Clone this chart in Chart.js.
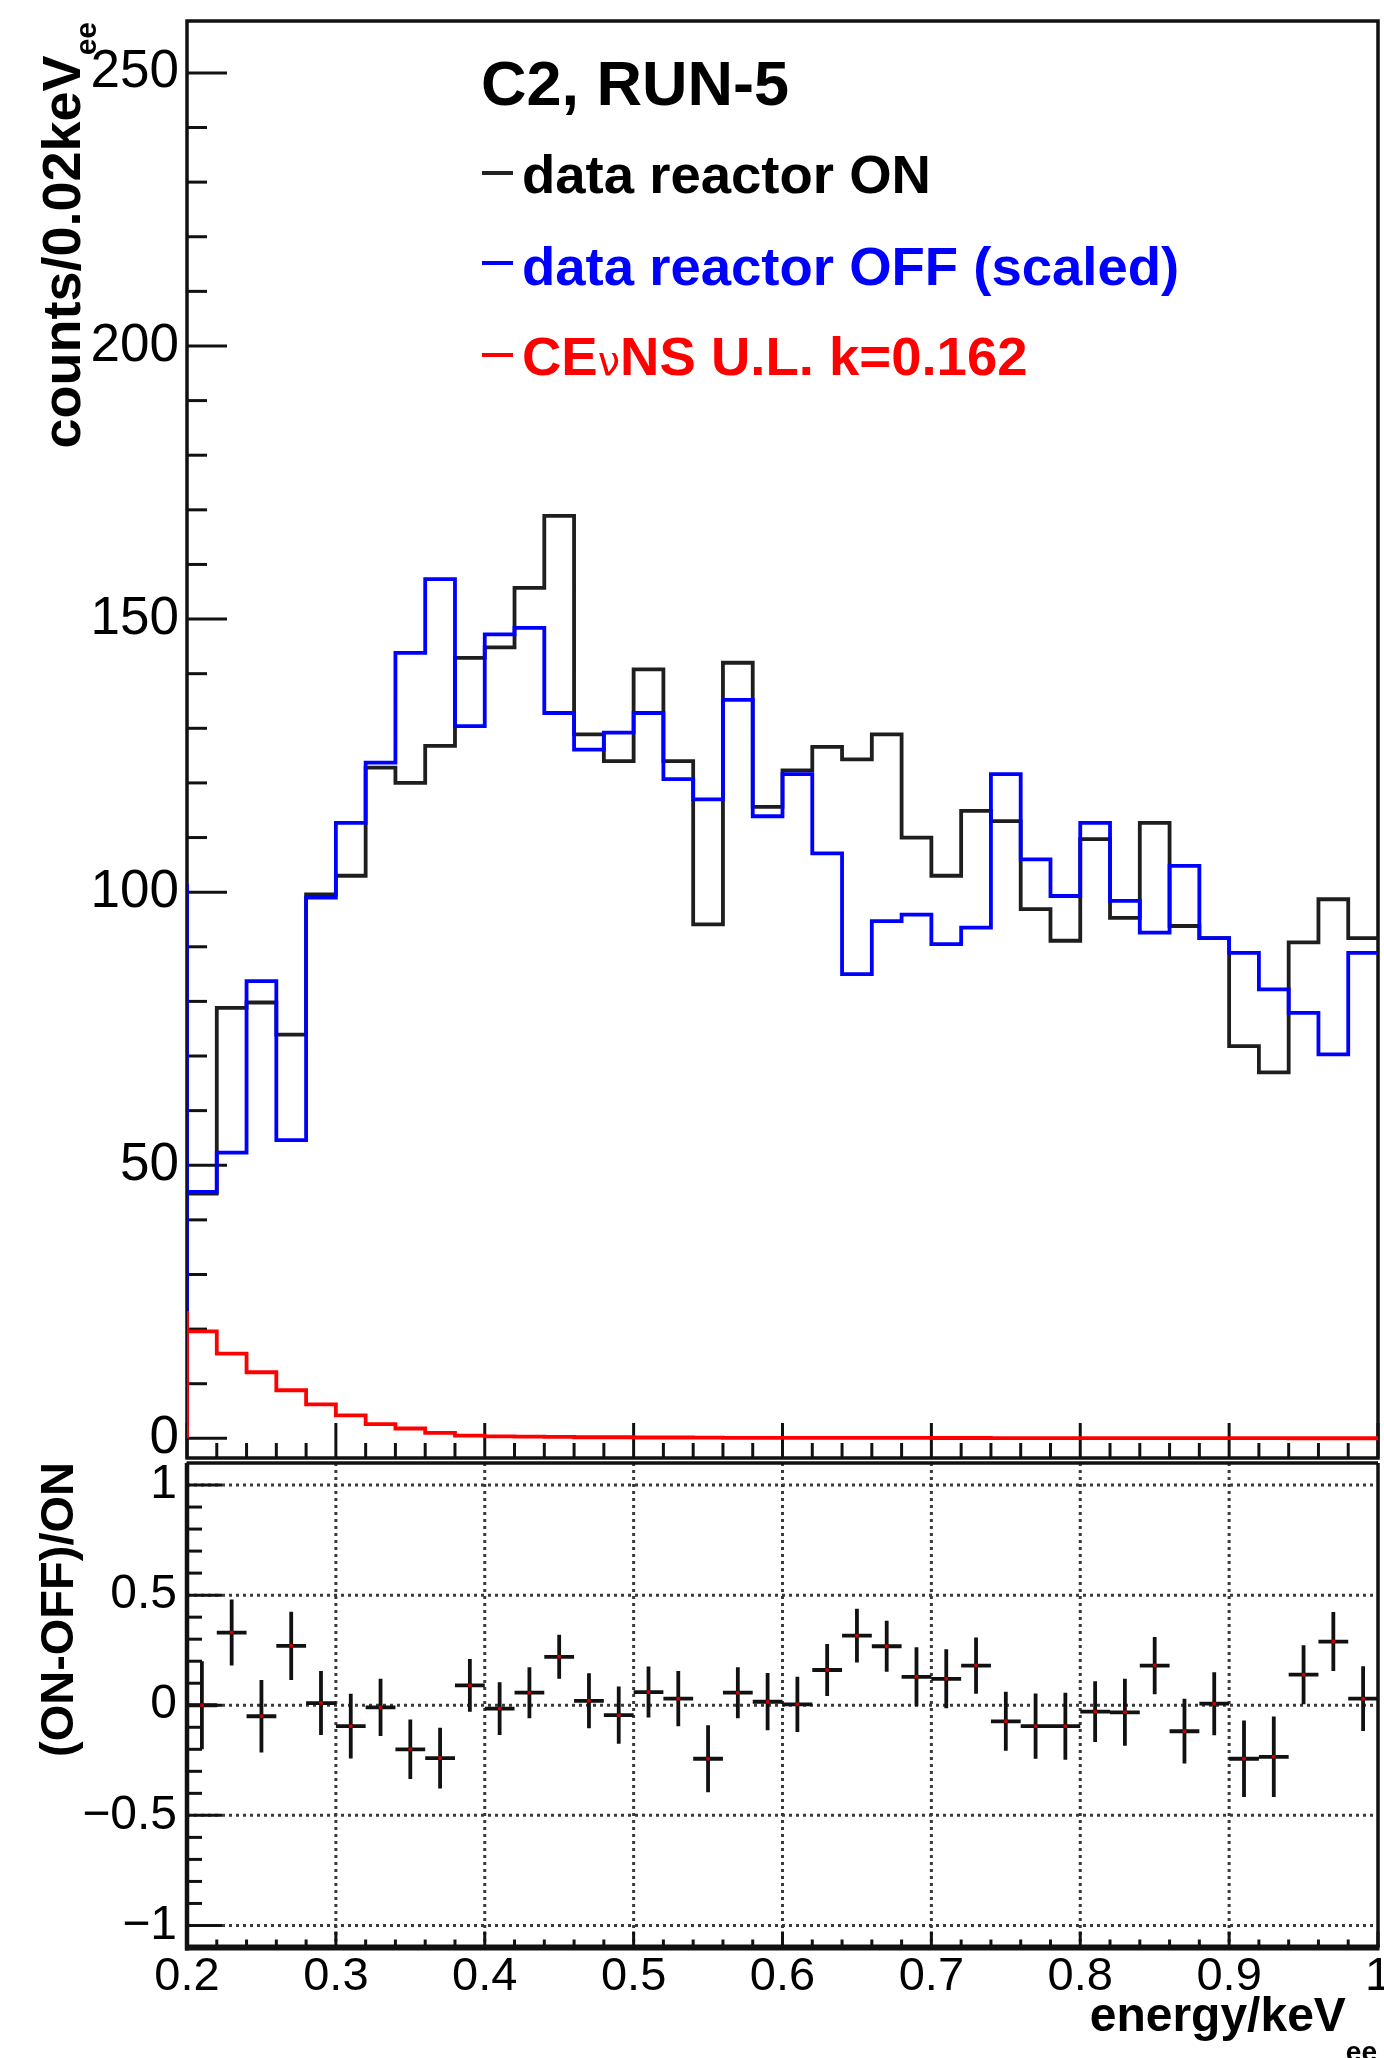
<!DOCTYPE html>
<html>
<head>
<meta charset="utf-8">
<title>C2, RUN-5</title>
<script src="https://cdn.jsdelivr.net/npm/chart.js@4.4.1/dist/chart.umd.min.js"></script>
<style>
html,body{margin:0;padding:0;background:#ffffff;}
body{position:relative;width:1384px;height:2058px;overflow:hidden;font-family:"Liberation Sans",Arial,Helvetica,sans-serif;}
canvas{position:absolute;left:0;}
#topCanvas{top:0;}
#botCanvas{top:1440px;}
.txt{position:absolute;white-space:nowrap;font-weight:bold;line-height:1;color:#000;}
.dash{position:absolute;height:4px;width:31px;}
.rot{transform-origin:0 0;transform:rotate(-90deg);text-align:right;}
.sub{position:relative;}
.nu{font-weight:normal;font-size:40px;font-family:"DejaVu Sans","Liberation Sans",sans-serif;}
</style>
</head>
<body>
<canvas id="topCanvas" width="1384" height="1462"></canvas>
<canvas id="botCanvas" width="1384" height="618"></canvas>

<div class="txt" style="left:481px;top:52px;font-size:63px;">C2, RUN-5</div>
<div class="dash" style="left:482px;top:171px;background:#222;"></div>
<div class="txt" style="left:522px;top:148px;font-size:54.5px;">data reactor ON</div>
<div class="dash" style="left:482px;top:261px;background:#0000ff;"></div>
<div class="txt" style="left:522px;top:240px;font-size:54.5px;color:#0000ff;">data reactor OFF (scaled)</div>
<div class="dash" style="left:482px;top:353px;background:#ff0000;"></div>
<div class="txt" style="left:522px;top:330px;font-size:54.5px;color:#ff0000;">CE<span class="nu">ν</span>NS U.L. k=0.162</div>

<div class="txt rot" style="left:34px;top:722px;width:700px;font-size:54px;">counts/0.02keV<span class="sub" style="font-size:30px;top:16px;">ee</span></div>
<div class="txt rot" style="left:33px;top:1962px;width:500px;font-size:47px;">(ON-OFF)/ON</div>
<div class="txt" style="right:7px;top:1991px;font-size:48px;">energy/keV<span class="sub" style="font-size:28px;top:30px;">ee</span></div>

<script>
// ---------------- data ----------------
const binEdges = [0.20,0.22,0.24,0.26,0.28,0.30,0.32,0.34,0.36,0.38,0.40,0.42,0.44,0.46,0.48,0.50,0.52,0.54,0.56,0.58,
                  0.60,0.62,0.64,0.66,0.68,0.70,0.72,0.74,0.76,0.78,0.80,0.82,0.84,0.86,0.88,0.90,0.92,0.94,0.96,0.98,1.00];

const onCounts = [44.8,78.8,79.8,73.9,99.6,103.0,122.8,120.0,126.8,142.9,144.8,155.7,168.9,128.9,124.0,140.8,124.0,94.1,142.0,115.6,
                  122.3,126.6,124.3,128.9,110.0,103.0,114.9,113.0,96.9,91.1,109.7,95.3,112.7,93.8,91.6,71.8,67.0,90.8,98.7,91.6];

const offCounts = [45.1,52.3,83.7,54.6,99.0,112.7,123.7,143.8,157.3,130.4,147.2,148.4,132.8,126.1,129.2,132.8,120.7,117.0,135.2,113.9,
                   121.6,107.1,85.0,94.7,95.9,90.5,93.5,121.6,106.0,99.3,112.7,98.4,92.6,104.8,91.6,88.9,82.2,77.9,70.3,88.9];

const cevnsCounts = [19.6,15.5,12.1,8.8,6.2,4.2,2.6,1.8,1.0,0.5,0.35,0.3,0.25,0.2,0.2,0.15,0.15,0.12,0.1,0.1,
                     0.1,0.08,0.08,0.07,0.07,0.06,0.06,0.05,0.05,0.05,0.04,0.04,0.04,0.03,0.03,0.03,0.03,0.02,0.02,0.02];

// value of the bin just below 0.2 keV (seen as the vertical line on the left edge)
const onEdgeValue = 0;
const offEdgeValue = 101.5;
const cevnsEdgeValue = 23.3;

const ratioValues = [0.0,0.33,-0.05,0.27,0.01,-0.095,-0.01,-0.2,-0.24,0.09,-0.015,0.057,0.22,0.02,-0.045,0.06,0.03,-0.243,0.057,0.016,
                     0.004,0.16,0.316,0.268,0.129,0.12,0.18,-0.073,-0.095,-0.095,-0.029,-0.032,0.18,-0.118,0.007,-0.243,-0.234,0.139,0.289,0.03];
const ratioErrors = [0.2,0.15,0.165,0.155,0.145,0.147,0.13,0.135,0.138,0.12,0.12,0.116,0.1,0.125,0.13,0.116,0.125,0.152,0.116,0.13,
                     0.125,0.118,0.122,0.116,0.134,0.134,0.128,0.134,0.148,0.152,0.138,0.152,0.13,0.147,0.143,0.174,0.183,0.134,0.134,0.147];

const topYTicks = [0,50,100,150,200,250];
const topYTickLabels = ['0','50','100','150','200','250'];
const botYTicks = [-1,-0.5,0,0.5,1];
const botYTickLabels = ['\u22121','\u22120.5','0','0.5','1'];
const xTicks = [0.2,0.3,0.4,0.5,0.6,0.7,0.8,0.9,1.0];
const xTickLabels = ['0.2','0.3','0.4','0.5','0.6','0.7','0.8','0.9','1'];

// ---------------- helpers ----------------
function stepPoints(vals, edgeVal){
  const pts = [{x:binEdges[0], y:0}, {x:binEdges[0], y:edgeVal}];
  vals.forEach((v,i)=>{ pts.push({x:binEdges[i], y:v}); pts.push({x:binEdges[i+1], y:v}); });
  return pts;
}
function errorBarPoints(){
  const pts = [];
  ratioValues.forEach((r,i)=>{
    const c = (binEdges[i]+binEdges[i+1])/2;
    pts.push({x:binEdges[i], y:r}, {x:binEdges[i+1], y:r}, {x:c, y:null},
             {x:c, y:r-ratioErrors[i]}, {x:c, y:r+ratioErrors[i]}, {x:c, y:null});
  });
  return pts;
}
function markerPoints(){
  return ratioValues.map((r,i)=>({x:(binEdges[i]+binEdges[i+1])/2, y:r}));
}
function range(a,b,step){ const out=[]; const n=Math.round((b-a)/step); for(let i=0;i<=n;i++) out.push(a+i*step); return out; }
function line(ctx,x1,y1,x2,y2){ ctx.beginPath(); ctx.moveTo(x1,y1); ctx.lineTo(x2,y2); ctx.stroke(); }
function noPadY(s, w){ s.width = w; s.paddingTop = 0; s.paddingBottom = 0; }
function noPadX(s, h){ s.height = h; s.paddingLeft = 0; s.paddingRight = 0; }

Chart.defaults.font.family = "'Liberation Sans', Arial, Helvetica, sans-serif";
Chart.defaults.color = '#000';

// ---------------- upper panel ----------------
const topDecor = {
  id:'topDecor',
  beforeDatasetsDraw(chart){
    const ctx = chart.ctx, a = chart.chartArea, xs = chart.scales.x, ys = chart.scales.y;
    ctx.save();
    ctx.strokeStyle = '#111'; ctx.lineCap = 'butt';
    ctx.lineWidth = 3;
    range(0,250,10).forEach(v=>{
      const y = ys.getPixelForValue(v);
      const len = topYTicks.includes(Math.round(v)) ? 40 : 20;
      line(ctx, a.left, y, a.left+len, y);
    });
    range(0.2,1.0,0.02).forEach((v,i)=>{
      const x = xs.getPixelForValue(v);
      const len = (i%5===0) ? 35 : 15;
      line(ctx, x, a.bottom, x, a.bottom-len);
    });
    ctx.lineWidth = 3.5;
    ctx.strokeRect(a.left, a.top, a.right-a.left, a.bottom-a.top);
    ctx.restore();
  }
};

new Chart(document.getElementById('topCanvas'), {
  type:'line',
  data:{datasets:[
    {label:'CEvNS U.L. k=0.162', data:stepPoints(cevnsCounts, cevnsEdgeValue), borderColor:'#ff0000', borderWidth:3.8, pointRadius:0, order:0},
    {label:'data reactor OFF (scaled)', data:stepPoints(offCounts, offEdgeValue), borderColor:'#0000ff', borderWidth:3.8, pointRadius:0, order:1},
    {label:'data reactor ON', data:stepPoints(onCounts, onEdgeValue), borderColor:'#1e1e1e', borderWidth:3.8, pointRadius:0, order:2}
  ]},
  options:{
    responsive:false, animation:false, devicePixelRatio:1, events:[],
    layout:{padding:{left:0,right:6,top:21,bottom:0}, autoPadding:false},
    plugins:{legend:{display:false}, tooltip:{enabled:false}},
    elements:{line:{tension:0, borderJoinStyle:'miter', borderCapStyle:'butt', fill:false}},
    scales:{
      x:{type:'linear', min:0.2, max:1.0, grid:{display:false, drawTicks:false}, border:{display:false},
         ticks:{display:false}, afterFit(s){ noPadX(s, 4); }},
      y:{type:'linear', min:-3.6, max:259.5, grid:{display:false, drawTicks:false}, border:{display:false},
         afterBuildTicks(s){ s.ticks = topYTicks.map(v=>({value:v})); },
         ticks:{padding:8, font:{size:53}, color:'#000', callback:(v,i)=>topYTickLabels[i]},
         afterFit(s){ noPadY(s, 187); }}
    }
  },
  plugins:[topDecor]
});

// ---------------- lower panel ----------------
const botDecor = {
  id:'botDecor',
  beforeDatasetsDraw(chart){
    const ctx = chart.ctx, a = chart.chartArea, xs = chart.scales.x, ys = chart.scales.y;
    ctx.save();
    ctx.strokeStyle = '#3a3a3a'; ctx.lineWidth = 3; ctx.setLineDash([3,4]);
    xTicks.slice(1,-1).forEach(v=>{ const x = xs.getPixelForValue(v); line(ctx, x, a.top, x, a.bottom); });
    botYTicks.forEach(v=>{ const y = ys.getPixelForValue(v); line(ctx, a.left, y, a.right, y); });
    ctx.setLineDash([]);
    ctx.strokeStyle = '#111'; ctx.lineWidth = 3;
    range(-1,1,0.1).forEach((v,i)=>{
      const y = ys.getPixelForValue(v);
      const len = (i%5===0) ? 35 : 15;
      line(ctx, a.left, y, a.left+len, y);
    });
    range(0.2,1.0,0.02).forEach((v,i)=>{
      const x = xs.getPixelForValue(v);
      const len = (i%5===0) ? 16 : 8;
      line(ctx, x, a.bottom, x, a.bottom-len);
    });
    ctx.lineWidth = 3.5;
    line(ctx, a.left-0.5, a.top, a.right, a.top);
    line(ctx, a.right, a.top, a.right, a.bottom);
    ctx.lineWidth = 4.5;
    line(ctx, a.left, a.top, a.left, a.bottom+3);
    ctx.lineWidth = 6;
    line(ctx, a.left-2, a.bottom, a.right+1.5, a.bottom);
    ctx.restore();
  }
};

new Chart(document.getElementById('botCanvas'), {
  type:'line',
  data:{datasets:[
    {label:'markers', data:markerPoints(), showLine:false, pointRadius:2, pointBackgroundColor:'#cc0000', pointBorderWidth:0, order:0},
    {label:'(ON-OFF)/ON', data:errorBarPoints(), borderColor:'#111', borderWidth:3.8, pointRadius:0, spanGaps:false, order:1}
  ]},
  options:{
    responsive:false, animation:false, devicePixelRatio:1, events:[],
    layout:{padding:{left:0,right:6,top:23,bottom:0}, autoPadding:false},
    plugins:{legend:{display:false}, tooltip:{enabled:false}},
    elements:{line:{tension:0, borderCapStyle:'butt', fill:false}},
    scales:{
      x:{type:'linear', min:0.2, max:1.0, grid:{display:false, drawTicks:false}, border:{display:false},
         afterBuildTicks(s){ s.ticks = xTicks.map(v=>({value:v})); },
         ticks:{padding:1, font:{size:47}, color:'#000', maxRotation:0, minRotation:0, autoSkip:false, callback:(v,i)=>xTickLabels[i]},
         afterFit(s){ noPadX(s, 110.5); }},
      y:{type:'linear', min:-1.1, max:1.1, grid:{display:false, drawTicks:false}, border:{display:false},
         afterBuildTicks(s){ s.ticks = botYTicks.map(v=>({value:v})); },
         ticks:{padding:10, font:{size:48}, color:'#000', callback:(v,i)=>botYTickLabels[i]},
         afterFit(s){ noPadY(s, 187); }}
    }
  },
  plugins:[botDecor]
});
</script>
</body>
</html>
